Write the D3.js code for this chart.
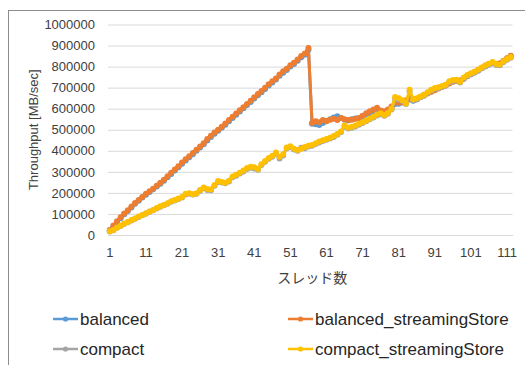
<!DOCTYPE html>
<html>
<head>
<meta charset="utf-8">
<script src="https://cdn.jsdelivr.net/npm/d3@7"></script>
<style>
  html, body { margin: 0; padding: 0; background: #fff; }
  svg { display: block; }
</style>
</head>
<body>
<svg id="chart" width="525" height="365"></svg>
<script>
// Thread counts 1..112
const threads = d3.range(1, 113);
const xTickLabels = [1, 11, 21, 31, 41, 51, 61, 71, 81, 91, 101, 111];
const yTickValues = [0, 100000, 200000, 300000, 400000, 500000, 600000, 700000, 800000, 900000, 1000000];

const balanced = [
  22000, 40000, 60000, 80000, 98000, 114000, 131000, 148000, 163000, 178000,
  191000, 204000, 217000, 230000, 244000, 258000, 274000, 290000, 306000, 322000,
  338000, 354000, 369000, 384000, 400000, 416000, 431000, 449000, 466000, 481000,
  495000, 509000, 524000, 540000, 556000, 571000, 587000, 602000, 617000, 632000,
  648000, 664000, 678000, 694000, 710000, 724000, 739000, 756000, 771000, 784000,
  800000, 812000, 828000, 844000, 856000, 880000,
  528000, 526000, 522000, 532000, 542000, 550000, 558000, 564000, 556000, 548000,
  544000, 550000, 554000, 556000, 562000, 572000, 580000, 588000, 596000, 588000,
  584000, 592000, 604000, 622000, 624000, 630000, 636000, 644000, 638000, 644000,
  656000, 666000, 674000, 682000, 690000, 698000, 704000, 712000, 722000, 730000,
  734000, 732000, 744000, 754000, 764000, 772000, 782000, 792000, 802000, 810000,
  816000, 812000, 814000, 826000, 838000, 850000
];

const balancedStreamingStore = [
  24000, 45000, 65000, 84000, 102000, 118000, 135000, 152000, 166000, 181000,
  196000, 208000, 220000, 234000, 248000, 262000, 279000, 296000, 311000, 327000,
  344000, 360000, 374000, 390000, 405000, 421000, 436000, 456000, 472000, 487000,
  500000, 514000, 530000, 546000, 562000, 577000, 593000, 607000, 622000, 638000,
  654000, 670000, 684000, 700000, 716000, 730000, 744000, 762000, 778000, 790000,
  806000, 818000, 834000, 850000, 862000, 888000,
  532000, 540000, 536000, 546000, 540000, 548000, 552000, 546000, 556000, 550000,
  546000, 548000, 552000, 556000, 566000, 578000, 588000, 596000, 604000, 592000,
  588000, 596000, 610000, 630000, 628000, 632000, 640000, 648000, 640000, 646000,
  656000, 664000, 672000, 680000, 688000, 696000, 704000, 710000, 720000, 728000,
  732000, 734000, 742000, 756000, 766000, 774000, 784000, 794000, 804000, 812000,
  818000, 814000, 816000, 828000, 840000, 852000
];

const compact = [
  17000, 23000, 34000, 43000, 53000, 61000, 69000, 77000, 86000, 94000,
  101000, 110000, 117000, 126000, 134000, 141000, 149000, 158000, 164000, 171000,
  178000, 192000, 196000, 192000, 196000, 210000, 222000, 214000, 212000, 234000,
  252000, 250000, 246000, 254000, 274000, 282000, 292000, 302000, 314000, 320000,
  316000, 310000, 332000, 348000, 362000, 372000, 386000, 364000, 378000, 412000,
  418000, 406000, 400000, 414000, 412000, 420000, 424000, 432000, 440000, 446000,
  452000, 458000, 466000, 476000, 488000, 514000, 506000, 510000, 516000, 524000,
  532000, 540000, 550000, 558000, 568000, 574000, 566000, 576000, 596000, 646000,
  644000, 636000, 622000, 682000, 640000, 646000, 654000, 662000, 674000, 686000,
  694000, 698000, 704000, 710000, 726000, 732000, 734000, 724000, 744000, 756000,
  764000, 772000, 782000, 792000, 802000, 810000, 818000, 808000, 806000, 822000,
  832000, 842000
];

const compactStreamingStore = [
  18000, 24000, 36000, 44000, 55000, 62000, 71000, 78000, 88000, 95000,
  103000, 112000, 118000, 128000, 136000, 142000, 151000, 160000, 166000, 173000,
  180000, 196000, 198000, 194000, 198000, 214000, 226000, 218000, 216000, 238000,
  256000, 252000, 248000, 258000, 278000, 286000, 296000, 306000, 318000, 324000,
  322000, 314000, 336000, 352000, 366000, 376000, 392000, 372000, 384000, 416000,
  422000, 410000, 404000, 410000, 418000, 424000, 428000, 436000, 444000, 450000,
  456000, 462000, 470000, 480000, 492000, 520000, 510000, 514000, 520000, 528000,
  536000, 544000, 554000, 562000, 572000, 578000, 570000, 580000, 600000, 655000,
  650000, 640000, 625000, 690000, 645000, 650000, 658000, 666000, 678000, 690000,
  698000, 702000, 708000, 714000, 730000, 736000, 738000, 728000, 748000, 760000,
  768000, 776000, 786000, 796000, 806000, 814000, 822000, 812000, 810000, 826000,
  836000, 846000
];

const seriesNames = ["balanced", "balanced_streamingStore", "compact", "compact_streamingStore"];
const seriesValues = [balanced, balancedStreamingStore, compact, compactStreamingStore];
const seriesColors = ["#5B9BD5", "#ED7D31", "#A5A5A5", "#FFC000"];

const svg = d3.select("#chart");
const plot = { left: 108, right: 512.5, top: 24.5, bottom: 235 };

// Chart frame
svg.append("rect")
  .attr("x", 8.5).attr("y", 10.5)
  .attr("width", 540).attr("height", 380)
  .attr("fill", "#fff")
  .attr("stroke", "#8c8c8c")
  .attr("stroke-width", 1);

const x = d3.scaleBand()
  .domain(threads)
  .range([plot.left, plot.right])
  .paddingInner(0).paddingOuter(0);

const y = d3.scaleLinear()
  .domain([0, 1000000])
  .range([plot.bottom, plot.top]);

const xc = d => x(d) + x.bandwidth() / 2;

// Horizontal gridlines + y labels
const yAxis = d3.axisLeft(y)
  .tickValues(yTickValues)
  .tickSize(-(plot.right - plot.left))
  .tickPadding(13)
  .tickFormat(d3.format("d"));

const gy = svg.append("g")
  .attr("transform", `translate(${plot.left},0)`)
  .call(yAxis);
gy.select(".domain").remove();
gy.selectAll(".tick line").attr("stroke", "#d9d9d9").attr("stroke-width", 1);
gy.selectAll(".tick text")
  .attr("fill", "#404040")
  .style("font-family", "'Liberation Sans', Arial, sans-serif")
  .style("font-size", "13px");

// Category axis labels
const xAxis = d3.axisBottom(x)
  .tickValues(xTickLabels)
  .tickSize(0)
  .tickPadding(13);
const gx = svg.append("g")
  .attr("transform", `translate(0,${plot.bottom})`)
  .call(xAxis);
gx.select(".domain").attr("stroke", "#d9d9d9");
gx.selectAll(".tick text")
  .attr("fill", "#404040")
  .style("font-family", "'Liberation Sans', Arial, sans-serif")
  .style("font-size", "13px");

// Axis titles
svg.append("text")
  .attr("x", (plot.left + plot.right) / 2 + 2)
  .attr("y", 283)
  .attr("text-anchor", "middle")
  .attr("fill", "#404040")
  .style("font-family", "'Noto Sans CJK JP', sans-serif")
  .style("font-size", "14px")
  .text("スレッド数");

svg.append("text")
  .attr("transform", `translate(38,${(plot.top + plot.bottom) / 2}) rotate(-90)`)
  .attr("text-anchor", "middle")
  .attr("fill", "#404040")
  .style("font-family", "'Liberation Sans', Arial, sans-serif")
  .style("font-size", "13px")
  .text("Throughput [MB/sec]");

// Series lines with markers
const line = d3.line()
  .x((d, i) => xc(threads[i]))
  .y(d => y(d));

seriesValues.forEach((vals, s) => {
  const g = svg.append("g").attr("class", "series");
  g.append("path")
    .datum(vals)
    .attr("d", line)
    .attr("fill", "none")
    .attr("stroke", seriesColors[s])
    .attr("stroke-width", 3)
    .attr("stroke-linejoin", "round");
  g.selectAll("circle")
    .data(vals)
    .join("circle")
    .attr("cx", (d, i) => xc(threads[i]))
    .attr("cy", d => y(d))
    .attr("r", 3)
    .attr("fill", seriesColors[s]);
});

// Legend
const legendPos = [
  { x: 53, y: 319 }, { x: 288, y: 319 },
  { x: 53, y: 349 }, { x: 288, y: 349 }
];
seriesNames.forEach((name, s) => {
  const p = legendPos[s];
  const g = svg.append("g").attr("transform", `translate(${p.x},${p.y})`);
  g.append("line")
    .attr("x1", 0).attr("x2", 25)
    .attr("y1", 0).attr("y2", 0)
    .attr("stroke", seriesColors[s])
    .attr("stroke-width", 2.5);
  g.append("circle")
    .attr("cx", 12.5).attr("cy", 0).attr("r", 2.6)
    .attr("fill", seriesColors[s]);
  g.append("text")
    .attr("x", 27).attr("y", 0)
    .attr("dy", "0.35em")
    .attr("fill", "#262626")
    .style("font-family", "'Liberation Sans', Arial, sans-serif")
    .style("font-size", "17px")
    .text(name);
});
</script>
</body>
</html>
